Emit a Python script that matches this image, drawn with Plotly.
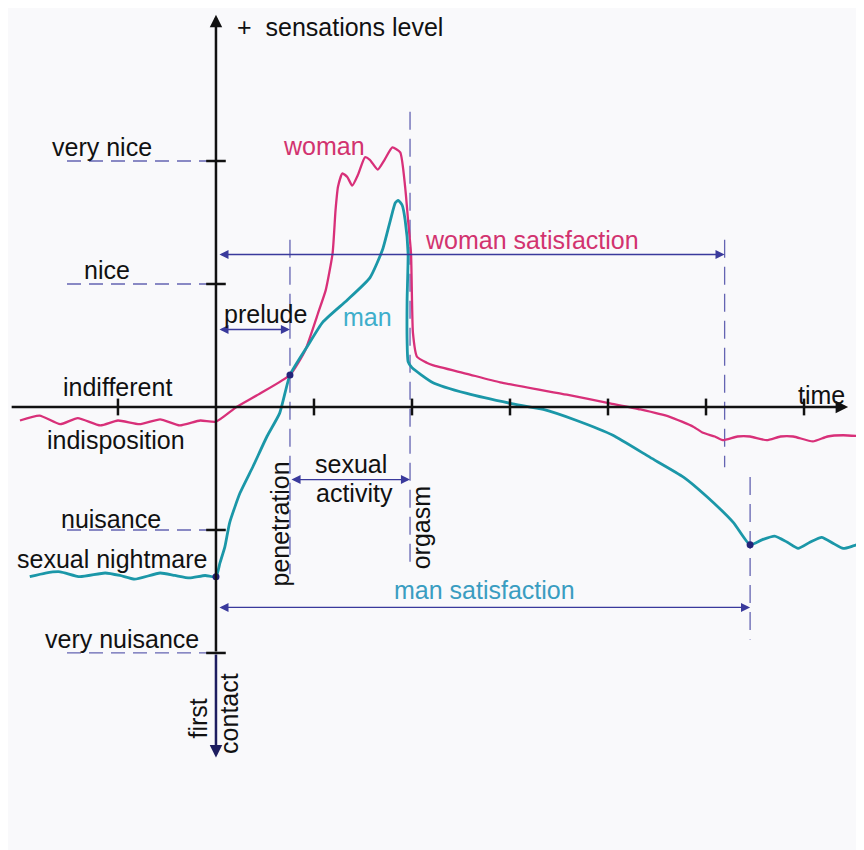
import plotly.graph_objects as go

# ---------------- data (time units, sensation-level units) ----------------
woman_t = [-2.00, -1.80, -1.59, -1.41, -1.18, -1.00, -0.78, -0.57, -0.37, -0.16, 0.00,
           0.21, 0.45, 0.755, 0.91, 1.04, 1.12, 1.19, 1.22, 1.245, 1.29, 1.34, 1.39, 1.45,
           1.52, 1.57, 1.65, 1.72, 1.80, 1.88, 1.93, 1.96, 1.99, 2.00, 2.01, 2.05, 2.15,
           2.21, 2.56, 2.90, 3.58, 4.02, 4.33, 4.63, 4.87, 4.97, 5.09, 5.17, 5.32, 5.45,
           5.62, 5.76, 5.89, 6.09, 6.24, 6.40, 6.61]
woman_level = [-0.11, -0.07, -0.14, -0.09, -0.15, -0.11, -0.14, -0.10, -0.15, -0.11, -0.12,
               0.00, 0.11, 0.26, 0.46, 0.76, 0.95, 1.25, 1.60, 1.79, 1.90, 1.87, 1.80, 1.89,
               2.03, 2.01, 1.93, 2.01, 2.11, 2.07, 1.79, 1.52, 1.25, 0.87, 0.60, 0.41, 0.36,
               0.34, 0.27, 0.20, 0.10, 0.03, -0.02, -0.08, -0.16, -0.21, -0.24, -0.27, -0.24,
               -0.24, -0.27, -0.24, -0.24, -0.28, -0.24, -0.23, -0.24]

man_t = [-1.90, -1.74, -1.59, -1.39, -1.13, -0.98, -0.83, -0.57, -0.42, -0.27, -0.11, 0.00,
         0.04, 0.09, 0.14, 0.245, 0.38, 0.52, 0.65, 0.755, 0.93, 1.09, 1.34, 1.57, 1.70, 1.78,
         1.83, 1.86, 1.90, 1.93, 1.96, 1.95, 1.95, 1.96, 2.00, 2.21, 2.56, 3.00, 3.34,
         3.68, 4.05, 4.43, 4.77, 5.01, 5.28, 5.45, 5.57, 5.70, 5.83, 5.94, 6.06, 6.18,
         6.30, 6.40, 6.50, 6.61]
man_level = [-1.38, -1.35, -1.34, -1.38, -1.35, -1.37, -1.40, -1.35, -1.37, -1.39, -1.37, -1.38,
             -1.27, -1.14, -0.94, -0.70, -0.48, -0.24, -0.05, 0.26, 0.49, 0.69, 0.87, 1.05, 1.28,
             1.52, 1.66, 1.68, 1.64, 1.52, 1.25, 0.87, 0.54, 0.37, 0.32, 0.20, 0.11, 0.03, -0.02,
             -0.11, -0.23, -0.41, -0.57, -0.73, -0.94, -1.12, -1.08, -1.05, -1.10, -1.15, -1.10,
             -1.06, -1.11, -1.15, -1.13, -1.10]

level_names = ["very nice", "nice", "indifferent", "indisposition", "nuisance",
               "sexual nightmare", "very nuisance"]
dashed_levels = [2, 1, -1, -2]

time_ticks = [-1, 1, 2, 3, 4, 5, 6]

event_names = ["penetration", "orgasm"]
event_times = [0.755, 1.98]
woman_satisfaction_end = 5.19
man_satisfaction_end = 5.45

key_points_t = [0.0, 0.755, 5.45]
key_points_level = [-1.38, 0.26, -1.12]

# ---------------- styles ----------------
PINK = "#d83079"
PINK_TXT = "#d2336f"
TEAL = "#1b97a8"
TEAL_TXT = "#3eaecb"
TEAL_TXT2 = "#3a9dc1"
NAVY = "#3a3a9c"
DASH = "#6464b2"
BG = "#f9f9fb"
FONT = "Liberation Sans, Arial, sans-serif"
FS = 25

fig = go.Figure()

# level guide dashes
for lv in dashed_levels:
    fig.add_trace(go.Scatter(x=[-1.52, -0.07], y=[lv, lv], mode="lines",
                             line=dict(color=DASH, width=1.3, dash="14px,8px"),
                             hoverinfo="skip", showlegend=False))

# vertical event guides
guides = [(event_times[0], 1.36, -1.36), (event_times[1], 2.40, -1.33),
          (woman_satisfaction_end, 1.36, -0.49), (man_satisfaction_end, -0.57, -1.89)]
for gx, y0, y1 in guides:
    fig.add_trace(go.Scatter(x=[gx, gx], y=[y0, y1], mode="lines",
                             line=dict(color=DASH, width=1.3, dash="18px,9px"),
                             hoverinfo="skip", showlegend=False))

# curves
fig.add_trace(go.Scatter(x=woman_t, y=woman_level, mode="lines", name="woman",
                         line=dict(color=PINK, width=2.3, shape="spline", smoothing=0.5),
                         showlegend=False))
fig.add_trace(go.Scatter(x=man_t, y=man_level, mode="lines", name="man",
                         line=dict(color=TEAL, width=2.8, shape="spline", smoothing=0.5),
                         showlegend=False))

# axis ticks
fig.add_trace(go.Scatter(x=time_ticks, y=[0] * len(time_ticks), mode="markers",
                         marker=dict(symbol="line-ns", size=12, line=dict(color="#111", width=2.5)),
                         hoverinfo="skip", showlegend=False))
fig.add_trace(go.Scatter(x=[0] * len(dashed_levels), y=dashed_levels, mode="markers",
                         marker=dict(symbol="line-ew", size=14, line=dict(color="#111", width=2.5)),
                         hoverinfo="skip", showlegend=False))

# key points
fig.add_trace(go.Scatter(x=key_points_t, y=key_points_level, mode="markers",
                         marker=dict(color="#24247a", size=7),
                         hoverinfo="skip", showlegend=False))

ann = []


def arrow(x0, y0, x1, y1, color, width, head=2, size=1.0, both=False):
    ann.append(dict(x=x1, y=y1, ax=x0, ay=y0, xref="x", yref="y", axref="x", ayref="y",
                    text="", showarrow=True, arrowhead=head, startarrowhead=head,
                    arrowsize=size, startarrowsize=size,
                    arrowwidth=width, arrowcolor=color,
                    arrowside="end+start" if both else "end", standoff=0, startstandoff=0))


def label(x, y, s, color="#111", angle=0, xanchor="center", size=FS):
    ann.append(dict(x=x, y=y, xref="x", yref="y", text=s, showarrow=False,
                    textangle=angle, xanchor=xanchor, yanchor="middle",
                    font=dict(family=FONT, size=size, color=color)))


# axes
arrow(-2.10, 0, 6.45, 0, "#111", 2.5, head=2, size=1.0)
arrow(0, -2.0, 0, 3.19, "#111", 2.5, head=2, size=1.0)
arrow(0, -2.0, 0, -2.85, "#1e1e60", 2.5, head=2, size=1.0)

# span arrows
arrow(0.02, 1.24, woman_satisfaction_end, 1.24, NAVY, 1.3, head=2, size=1.4, both=True)
arrow(0.02, 0.63, event_times[0], 0.63, NAVY, 1.3, head=2, size=1.4, both=True)
arrow(event_times[0], -0.59, event_times[1], -0.59, NAVY, 1.3, head=2, size=1.4, both=True)
arrow(0.02, -1.63, man_satisfaction_end, -1.63, NAVY, 1.3, head=2, size=1.4, both=True)

# level labels
label_x = [-1.16, -1.11, -1.00, -1.02, -1.07, -1.06, -0.96]
label_y = [2.11, 1.11, 0.16, -0.27, -0.91, -1.24, -1.89]
for s, lx, ly in zip(level_names, label_x, label_y):
    label(lx, ly, s)

label(0.19, 3.09, "+\u00a0\u00a0sensations level", xanchor="left")
label(6.18, 0.10, "time")
label(-0.18, -2.53, "first", angle=-90)
label(0.14, -2.49, "contact", angle=-90)
label(0.65, -0.95, event_names[0], angle=-90)
label(2.09, -0.98, event_names[1], angle=-90)
label(1.38, -0.46, "sexual")
label(1.41, -0.70, "activity")
label(0.51, 0.76, "prelude")
label(1.55, 0.73, "man", color=TEAL_TXT)
label(1.10, 2.12, "woman", color=PINK_TXT)
label(3.22, 1.36, "woman satisfaction", color=PINK_TXT)
label(2.74, -1.49, "man satisfaction", color=TEAL_TXT2)

# The page places the figure 8px in from the top-left corner; the ranges
# below account for that so the drawing lands where the reference has it.
fig.update_layout(
    width=856, height=842, margin=dict(l=0, r=0, t=0, b=0),
    paper_bgcolor=BG, plot_bgcolor=BG,
    xaxis=dict(range=[-2.122, 6.612], visible=False, fixedrange=True),
    yaxis=dict(range=[-3.602, 3.244], visible=False, fixedrange=True),
    annotations=ann, showlegend=False,
)

fig.write_html("out.html")
